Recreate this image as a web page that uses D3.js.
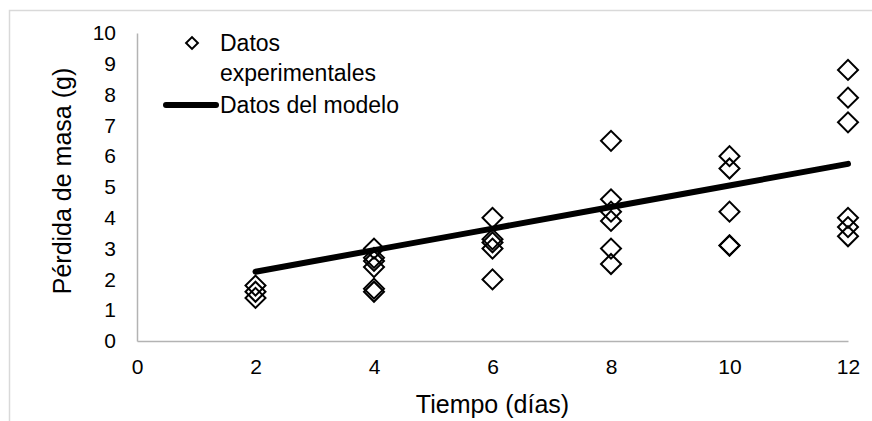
<!DOCTYPE html>
<html>
<head>
<meta charset="utf-8">
<script src="https://cdn.jsdelivr.net/npm/d3@7"></script>
<style>
  body { margin: 0; background: #fff; }
  text { font-family: "Liberation Sans", Arial, sans-serif; fill: #000; }
</style>
</head>
<body>
<div id="chart"></div>
<script>
// experimental points (day, mass loss in g)
const expDays = [2, 2, 2,
                 4, 4, 4, 4, 4, 4,
                 6, 6, 6, 6, 6,
                 8, 8, 8, 8, 8, 8,
                 10, 10, 10, 10, 10,
                 12, 12, 12, 12, 12, 12];
const expLoss = [1.8, 1.6, 1.4,
                 3.0, 2.7, 2.6, 2.4, 1.7, 1.6,
                 4.0, 3.3, 3.2, 3.0, 2.0,
                 6.5, 4.6, 4.2, 3.9, 3.0, 2.5,
                 6.0, 5.6, 4.2, 3.1, 3.1,
                 8.8, 7.9, 7.1, 4.0, 3.7, 3.4];
// model line
const modelDays = [2, 4, 6, 8, 10, 12];
const modelLoss = [2.25, 2.95, 3.65, 4.35, 5.05, 5.75];
// ticks
const xTicks = [0, 2, 4, 6, 8, 10, 12];
const yTicks = [0, 1, 2, 3, 4, 5, 6, 7, 8, 9, 10];

const w = 872;
const h = 421;

const svg = d3.select('#chart')
    .append('svg')
    .attr('width', w)
    .attr('height', h);

// outer chart border (cut at right and bottom)
svg.append('rect')
    .attr('x', 9.5)
    .attr('y', 10.5)
    .attr('width', w + 20)
    .attr('height', h + 20)
    .attr('fill', '#fff')
    .attr('stroke', '#d9d9d9')
    .attr('stroke-width', 1.5);

const xScale = d3.scaleLinear().domain([0, 12]).range([137, 848]);
const yScale = d3.scaleLinear().domain([0, 10]).range([341, 33]);

// axes
const xAxis = d3.axisBottom(xScale).tickValues(xTicks).tickSize(0).tickPadding(18);
const yAxis = d3.axisLeft(yScale).tickValues(yTicks).tickSize(0).tickPadding(21);

const gx = svg.append('g')
    .attr('transform', `translate(0, ${yScale(0)})`)
    .call(xAxis);
const gy = svg.append('g')
    .attr('transform', `translate(${xScale(0)}, 0)`)
    .call(yAxis);

[gx, gy].forEach(g => {
    g.attr('font-family', '"Liberation Sans", Arial, sans-serif');
    g.select('.domain').attr('stroke', '#b3b3b3').attr('stroke-width', 1.5);
    g.selectAll('text').attr('font-size', 21).attr('fill', '#000');
});

// axis titles
svg.append('text')
    .attr('x', (xScale(0) + xScale(12)) / 2)
    .attr('y', 404)
    .attr('text-anchor', 'middle')
    .attr('dominant-baseline', 'central')
    .attr('font-size', 25)
    .text('Tiempo (días)');

svg.append('text')
    .attr('transform', 'translate(62, 181) rotate(-90)')
    .attr('text-anchor', 'middle')
    .attr('dominant-baseline', 'central')
    .attr('font-size', 25)
    .text('Pérdida de masa (g)');

// model line
const line = d3.line()
    .x((d, i) => xScale(modelDays[i]))
    .y(d => yScale(d));

svg.append('path')
    .datum(modelLoss)
    .attr('d', line)
    .attr('fill', 'none')
    .attr('stroke', '#000')
    .attr('stroke-width', 6)
    .attr('stroke-linecap', 'round');

// experimental diamonds
const diamond = d3.symbol().type(d3.symbolSquare).size(200);

svg.selectAll('path.dot')
    .data(expDays)
    .enter()
    .append('path')
    .attr('class', 'dot')
    .attr('d', diamond)
    .attr('transform', (d, i) => `translate(${xScale(d)}, ${yScale(expLoss[i])}) rotate(45)`)
    .attr('fill', 'none')
    .attr('stroke', '#000')
    .attr('stroke-width', 2);

// legend
const legend = svg.append('g');
legend.append('path')
    .attr('d', d3.symbol().type(d3.symbolSquare).size(70))
    .attr('transform', 'translate(192, 43) rotate(45)')
    .attr('fill', 'none')
    .attr('stroke', '#000')
    .attr('stroke-width', 2);
legend.append('line')
    .attr('x1', 166).attr('x2', 216)
    .attr('y1', 105).attr('y2', 105)
    .attr('stroke', '#000')
    .attr('stroke-width', 6)
    .attr('stroke-linecap', 'round');
const legendLabels = [['Datos', 43], ['experimentales', 73], ['Datos del modelo', 105]];
legend.selectAll('text')
    .data(legendLabels)
    .enter()
    .append('text')
    .attr('x', 220)
    .attr('y', d => d[1])
    .attr('dominant-baseline', 'central')
    .attr('font-size', 23)
    .text(d => d[0]);
</script>
</body>
</html>
